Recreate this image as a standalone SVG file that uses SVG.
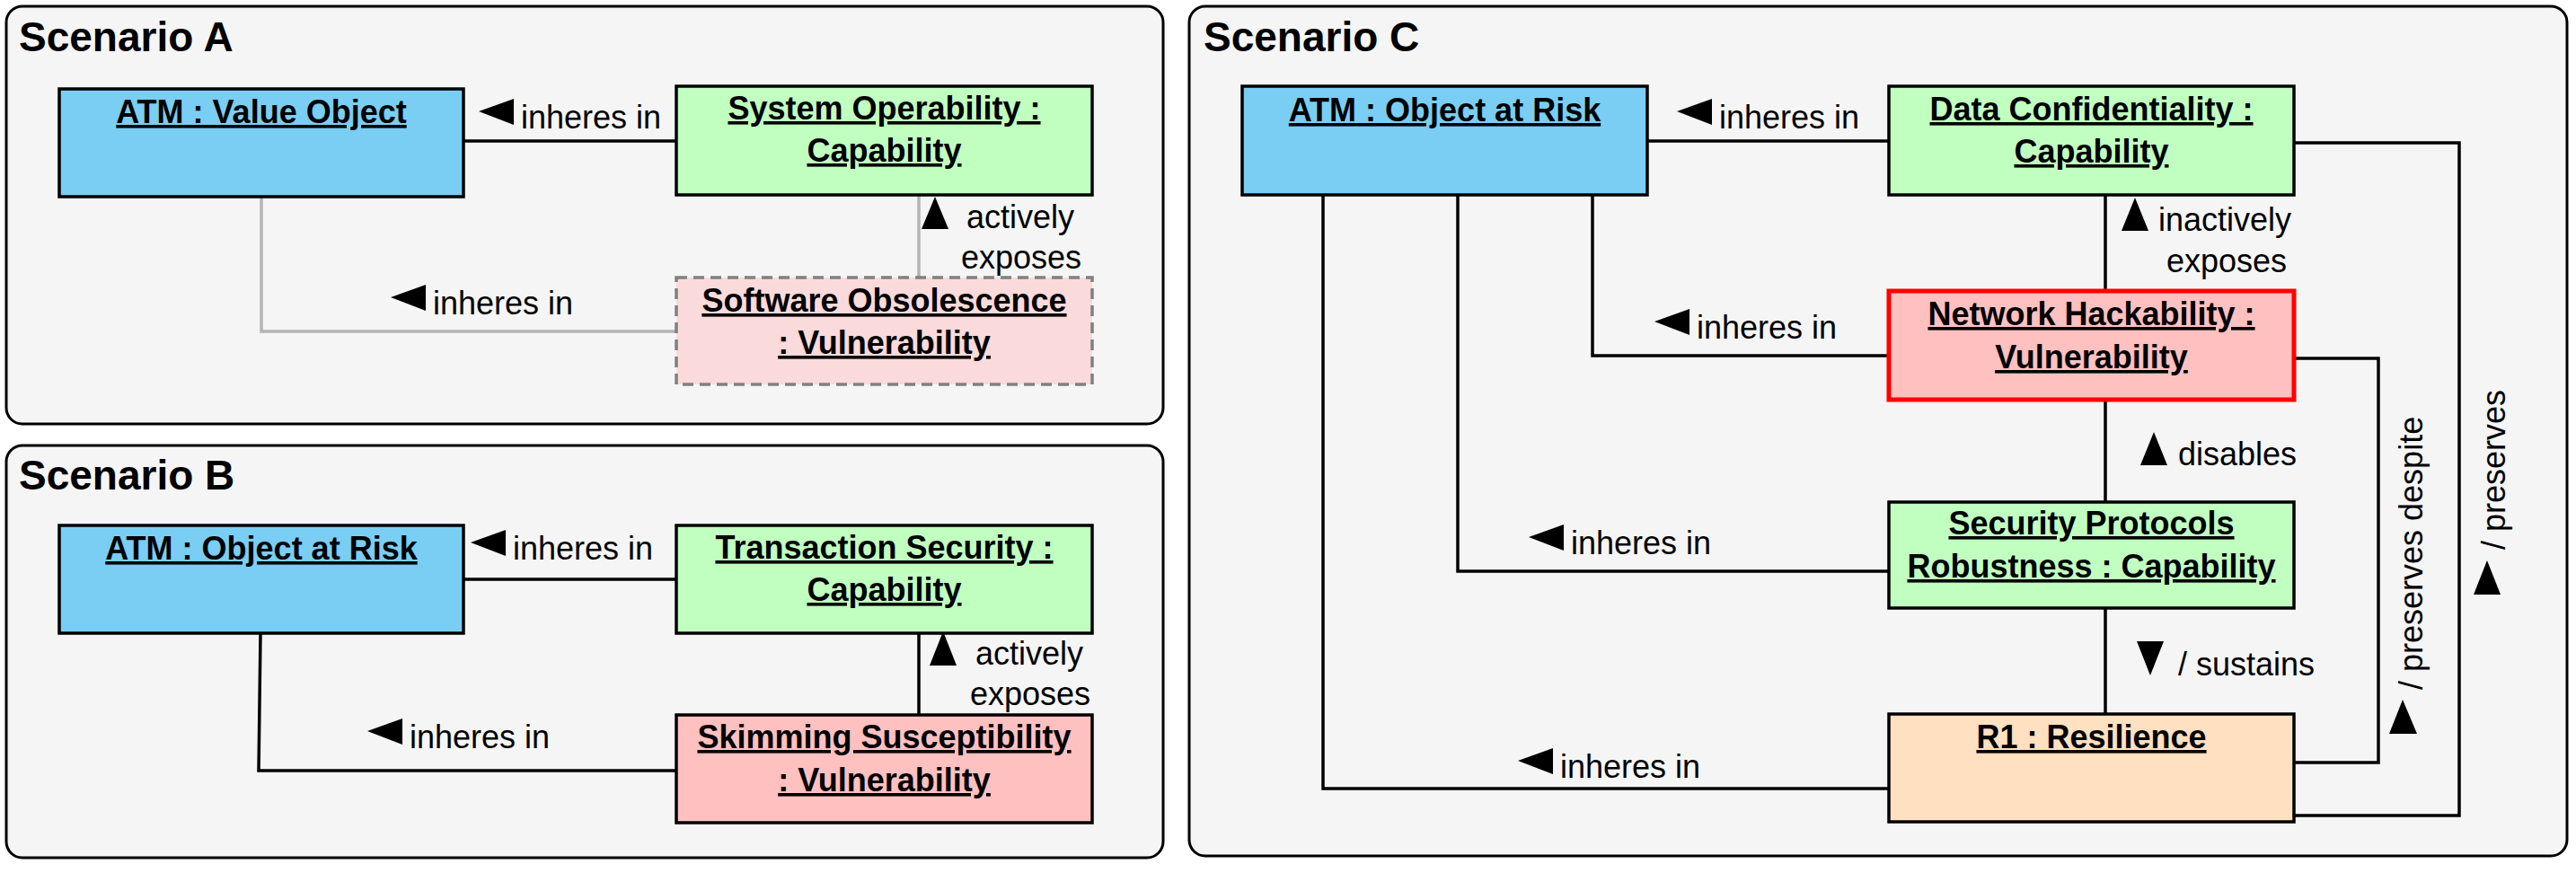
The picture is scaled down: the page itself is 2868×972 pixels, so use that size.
<svg xmlns="http://www.w3.org/2000/svg" width="2868" height="972" viewBox="0 0 2868 972">
<style>
.bg{fill:#ffffff}
.panel{fill:#f5f5f5;stroke:#000;stroke-width:3}
.title{font-family:"Liberation Sans",Arial,sans-serif;font-size:46px;font-weight:bold;fill:#000}
.nt{font-family:"Liberation Sans",Arial,sans-serif;font-size:36px;font-weight:bold;text-decoration:underline;text-anchor:middle;fill:#000}
.lbl{font-family:"Liberation Sans",Arial,sans-serif;font-size:36px;fill:#000}
.mid{text-anchor:middle}
.box{stroke:#000;stroke-width:3.5}
.blue{fill:#7acef3}
.green{fill:#c0ffc0}
.pink{fill:#ffc0c0}
.peach{fill:#ffe0c0}
.faded{fill:#fadada;stroke:#808080;stroke-width:3.5;stroke-dasharray:12 7}
.hot{fill:#ffc0c0;stroke:#ff0000;stroke-width:5}
.conn{fill:none;stroke:#000;stroke-width:3.5}
.grey{stroke:#b3b3b3}
.tri{fill:#000}
</style>
<rect class="bg" x="0" y="0" width="2868" height="972"/>

<g id="panelA">
<rect class="panel" x="7" y="7" width="1288" height="465" rx="18"/>
<text class="title" x="21" y="57">Scenario A</text>
</g>
<g id="panelB">
<rect class="panel" x="7" y="496" width="1288" height="459" rx="18"/>
<text class="title" x="21" y="545">Scenario B</text>
</g>
<g id="panelC">
<rect class="panel" x="1324" y="7" width="1534" height="946" rx="18"/>
<text class="title" x="1340" y="57">Scenario C</text>
</g>

<g id="connectors">
<!-- Scenario A -->
<path class="conn" d="M516 157H753"/>
<polygon class="tri" points="533,124 572,110 572,139"/>
<text class="lbl" x="580" y="143">inheres in</text>
<path class="conn grey" d="M291 219V369H753"/>
<polygon class="tri" points="435,331 474,317 474,346"/>
<text class="lbl" x="482" y="350">inheres in</text>
<path class="conn grey" d="M1023 309V217"/>
<polygon class="tri" points="1041,219 1026,255 1056,255"/>
<text class="lbl mid" x="1136" y="254">actively</text>
<text class="lbl mid" x="1137" y="299">exposes</text>

<!-- Scenario B -->
<path class="conn" d="M516 645H753"/>
<polygon class="tri" points="524,604 563,590 563,619"/>
<text class="lbl" x="571" y="623">inheres in</text>
<path class="conn" d="M290 706L288 858H753"/>
<polygon class="tri" points="409,814 448,800 448,829"/>
<text class="lbl" x="456" y="833">inheres in</text>
<path class="conn" d="M1023 796V705"/>
<polygon class="tri" points="1050,703 1035,741 1065,741"/>
<text class="lbl mid" x="1146" y="740">actively</text>
<text class="lbl mid" x="1147" y="785">exposes</text>

<!-- Scenario C -->
<path class="conn" d="M1834 157H2103"/>
<polygon class="tri" points="1867,124 1906,110 1906,139"/>
<text class="lbl" x="1914" y="143">inheres in</text>

<path class="conn" d="M2554 159H2738V908H2554"/>
<polygon class="tri" points="2769,624 2754,662 2784,662"/>
<text class="lbl" transform="translate(2789,612) rotate(-90)">/ preserves</text>

<path class="conn" d="M2344 217V324"/>
<polygon class="tri" points="2377,220 2362,257 2392,257"/>
<text class="lbl mid" x="2477" y="257">inactively</text>
<text class="lbl mid" x="2479" y="303">exposes</text>

<path class="conn" d="M1773 217V396H2103"/>
<polygon class="tri" points="1842,358 1881,344 1881,373"/>
<text class="lbl" x="1889" y="377">inheres in</text>

<path class="conn" d="M2554 399H2648V849H2554"/>
<polygon class="tri" points="2675,779 2660,817 2691,817"/>
<text class="lbl" transform="translate(2697,768) rotate(-90)">/ preserves despite</text>

<path class="conn" d="M2344 445V559"/>
<polygon class="tri" points="2398,481 2383,518 2413,518"/>
<text class="lbl" x="2425" y="518">disables</text>

<path class="conn" d="M1623 217V636H2103"/>
<polygon class="tri" points="1702,598 1741,584 1741,613"/>
<text class="lbl" x="1749" y="617">inheres in</text>

<path class="conn" d="M2344 677V795"/>
<polygon class="tri" points="2379,714 2409,714 2394,752"/>
<text class="lbl" x="2425" y="752">/ sustains</text>

<path class="conn" d="M1473 217V878H2103"/>
<polygon class="tri" points="1690,847 1729,833 1729,862"/>
<text class="lbl" x="1737" y="866">inheres in</text>
</g>

<!-- Scenario A nodes -->
<g id="a-atm">
<rect class="box blue" x="66" y="99" width="450" height="120"/>
<text class="nt" x="291" y="137">ATM : Value Object</text>
</g>
<g id="a-sysop">
<rect class="box green" x="753" y="96" width="463" height="121"/>
<text class="nt" x="984.5" y="133">System Operability :</text>
<text class="nt" x="984.5" y="180">Capability</text>
</g>
<g id="a-software">
<rect class="faded" x="753" y="309" width="463" height="119"/>
<text class="nt" x="984.5" y="347">Software Obsolescence</text>
<text class="nt" x="984.5" y="394">: Vulnerability</text>
</g>

<!-- Scenario B nodes -->
<g id="b-atm">
<rect class="box blue" x="66" y="585" width="450" height="120"/>
<text class="nt" x="291" y="623">ATM : Object at Risk</text>
</g>
<g id="b-transaction">
<rect class="box green" x="753" y="585" width="463" height="120"/>
<text class="nt" x="984.5" y="622">Transaction Security :</text>
<text class="nt" x="984.5" y="669">Capability</text>
</g>
<g id="b-skimming">
<rect class="box pink" x="753" y="796" width="463" height="120"/>
<text class="nt" x="984.5" y="833">Skimming Susceptibility</text>
<text class="nt" x="984.5" y="881">: Vulnerability</text>
</g>

<!-- Scenario C nodes -->
<g id="c-atm">
<rect class="box blue" x="1383" y="96" width="451" height="121"/>
<text class="nt" x="1608.5" y="135">ATM : Object at Risk</text>
</g>
<g id="c-data">
<rect class="box green" x="2103" y="96" width="451" height="121"/>
<text class="nt" x="2328.5" y="134">Data Confidentiality :</text>
<text class="nt" x="2328.5" y="181">Capability</text>
</g>
<g id="c-network">
<rect class="hot" x="2103" y="324" width="451" height="121"/>
<text class="nt" x="2328.5" y="362">Network Hackability :</text>
<text class="nt" x="2328.5" y="410">Vulnerability</text>
</g>
<g id="c-security">
<rect class="box green" x="2103" y="559" width="451" height="118"/>
<text class="nt" x="2328.5" y="595">Security Protocols</text>
<text class="nt" x="2328.5" y="643">Robustness : Capability</text>
</g>
<g id="c-r1">
<rect class="box peach" x="2103" y="795" width="451" height="120"/>
<text class="nt" x="2328.5" y="833">R1 : Resilience</text>
</g>
</svg>
